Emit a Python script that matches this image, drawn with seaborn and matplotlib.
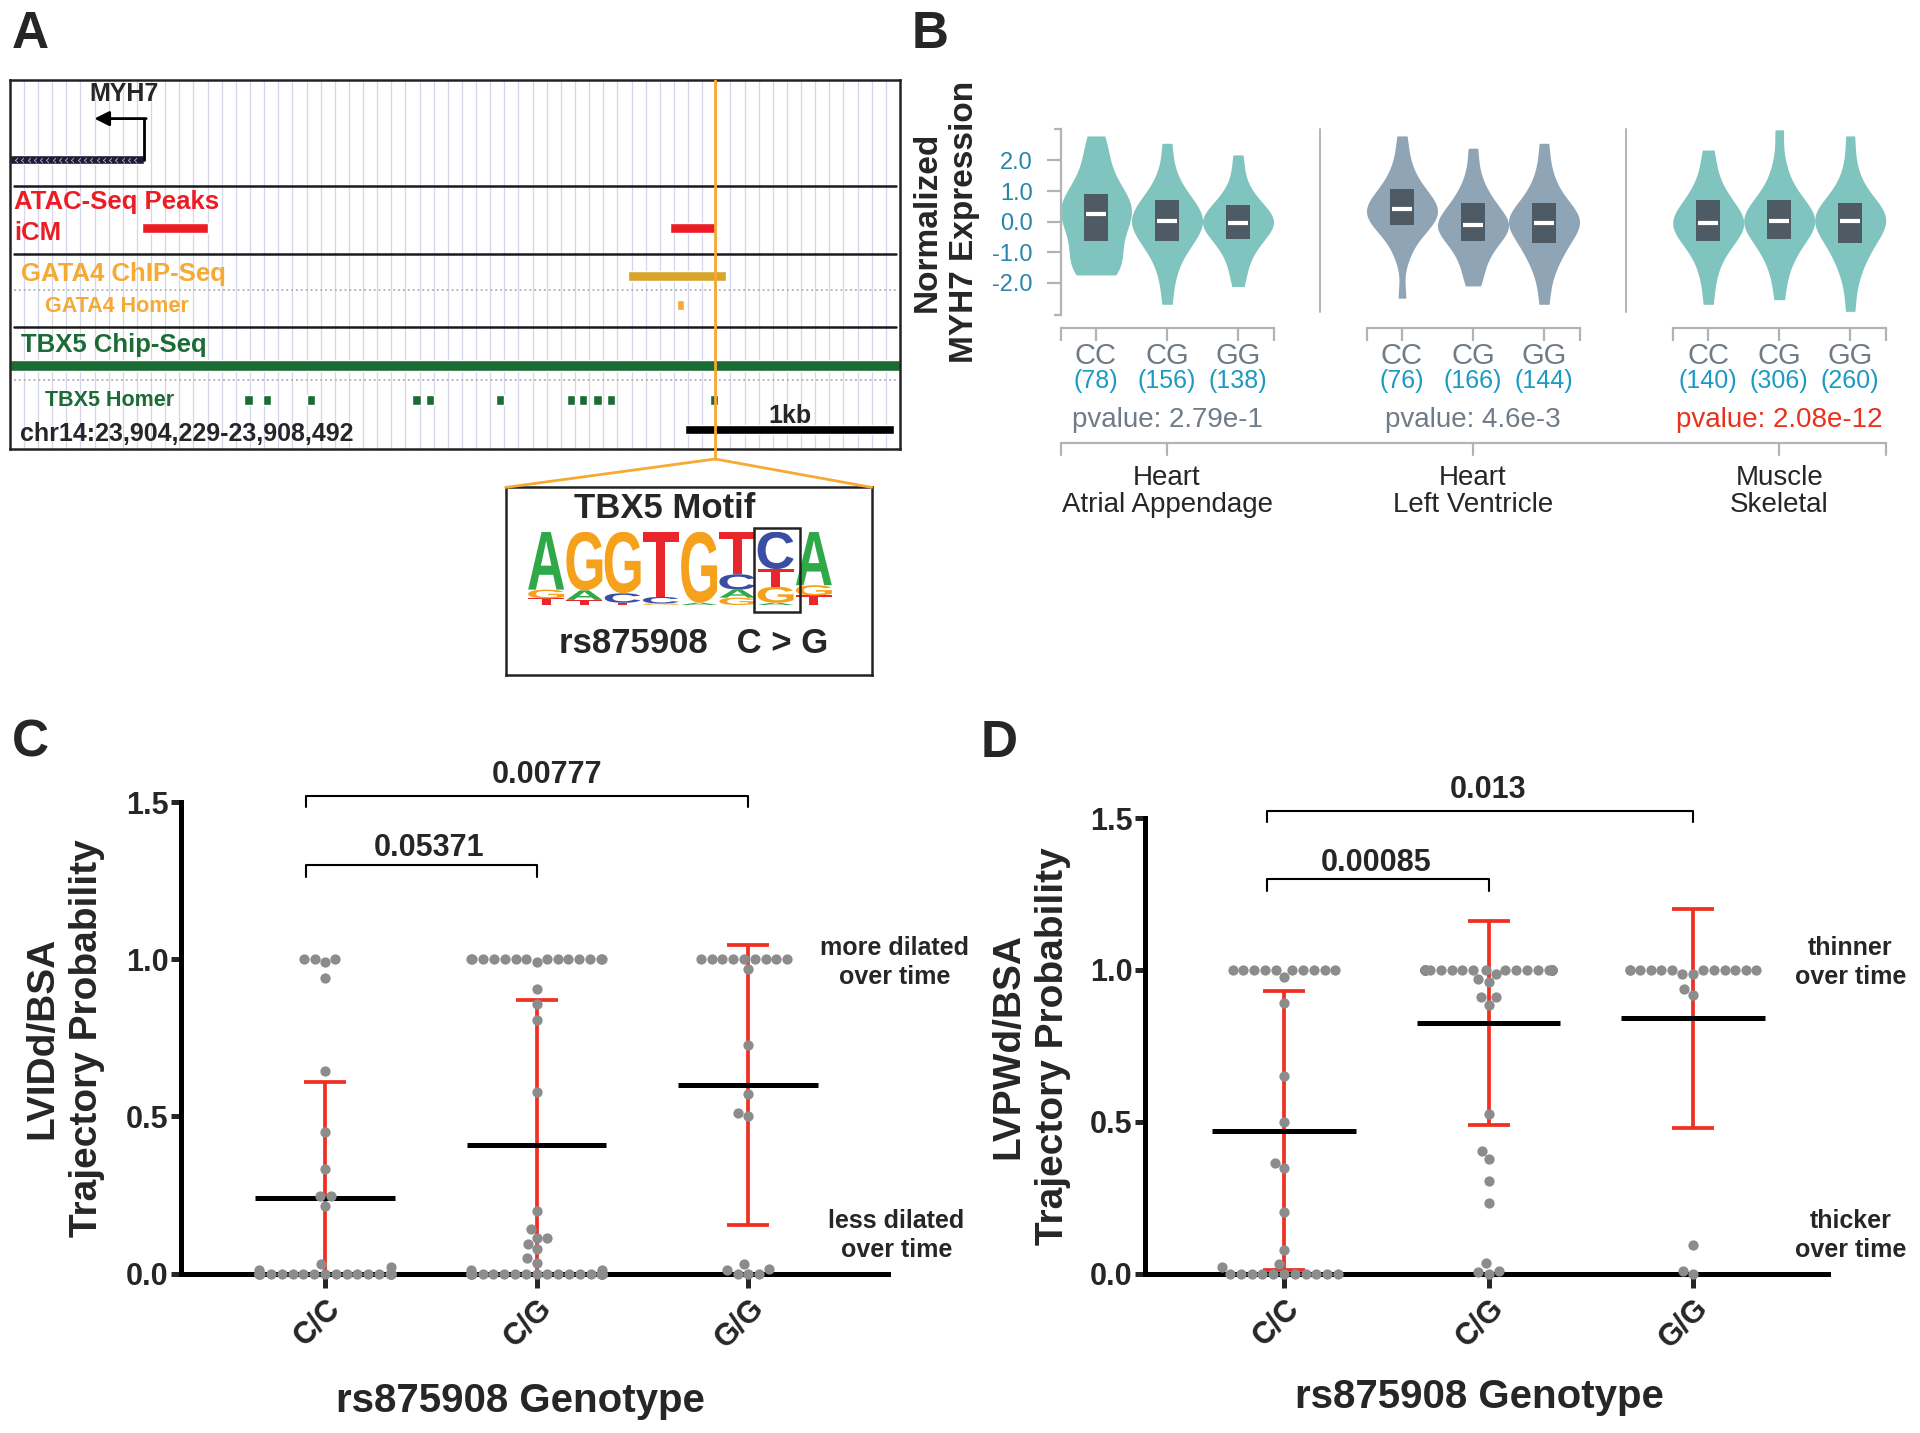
import numpy as np
import pandas as pd
import matplotlib
matplotlib.use("Agg")
import matplotlib.pyplot as plt
import seaborn as sns
from matplotlib.patches import Rectangle, PathPatch
from matplotlib.textpath import TextPath
from matplotlib.font_manager import FontProperties
from matplotlib.transforms import Affine2D, blended_transform_factory

try:
    from seaborn.categorical import Beeswarm
except ImportError:
    Beeswarm = None

# ---------------- data ----------------
# A: MYH7 locus on chr14, features in genomic coordinates
region_start = 23904229
region_end = 23908492
myh7_tss = 23904874
atac_peaks = [(23904862, 23905179), (23907390, 23907607)]
gata4_chip = [(23907190, 23907659)]
gata4_homer = [23907440]
tbx5_chip = [(23904229, 23908492)]
tbx5_homer = [23905372, 23905460, 23905672, 23906176, 23906240, 23906575,
              23906915, 23906973, 23907044, 23907108, 23907601]
snp_pos = 23907607
scale_bar = (23907463, 23908463)

# TBX5 motif, letter probabilities at positions 1-8
motif_A = [0.79, 0.13, 0.00, 0.00, 0.03, 0.11, 0.03, 0.73]
motif_C = [0.00, 0.00, 0.13, 0.09, 0.00, 0.21, 0.51, 0.00]
motif_G = [0.12, 0.80, 0.84, 0.02, 0.97, 0.10, 0.22, 0.14]
motif_T = [0.09, 0.07, 0.03, 0.89, 0.00, 0.58, 0.24, 0.13]
snp_column = 6

# B: GTEx eQTL, normalized MYH7 expression
tissues = ["Heart\nAtrial Appendage", "Heart\nLeft Ventricle", "Muscle\nSkeletal"]
geno_b = ["CC", "CG", "GG"]
n_samples = [[78, 156, 138], [76, 166, 144], [140, 306, 260]]
pvalues = ["2.79e-1", "4.6e-3", "2.08e-12"]
expr_q1 = [[-0.64, -0.64, -0.57], [-0.11, -0.64, -0.71], [-0.64, -0.57, -0.71]]
expr_med = [[0.26, 0.03, -0.03], [0.41, -0.11, -0.03], [-0.03, 0.03, 0.03]]
expr_q3 = [[0.91, 0.70, 0.56], [1.07, 0.62, 0.62], [0.70, 0.70, 0.62]]

aa_cc = [-1.74, -1.7, -1.5, -1.25, -1.0, -0.75, -0.5, -0.25, -0.05, 0.15, 0.26, 0.4, 0.55, 0.7, 0.91, 1.1, 1.4, 1.8, 2.3, 2.8]
aa_cg = [-2.7, -1.9, -1.4, -1.0, -0.8, -0.64, -0.45, -0.3, -0.15, -0.05, 0.03, 0.12, 0.25, 0.4, 0.55, 0.70, 0.9, 1.2, 1.7, 2.56]
aa_gg = [-2.12, -1.6, -1.2, -0.9, -0.7, -0.57, -0.4, -0.25, -0.12, -0.05, -0.03, 0.05, 0.15, 0.3, 0.45, 0.56, 0.75, 1.0, 1.5, 2.18]
lv_cc = [-2.5, -1.2, -0.7, -0.4, -0.2, -0.11, 0.05, 0.15, 0.25, 0.35, 0.41, 0.5, 0.6, 0.75, 0.9, 1.07, 1.3, 1.6, 2.1, 2.8]
lv_cg = [-2.1, -1.7, -1.3, -1.0, -0.8, -0.64, -0.45, -0.3, -0.2, -0.15, -0.11, 0.0, 0.1, 0.25, 0.45, 0.62, 0.8, 1.1, 1.6, 2.4]
lv_gg = [-2.7, -1.9, -1.4, -1.1, -0.9, -0.71, -0.5, -0.3, -0.15, -0.08, -0.03, 0.05, 0.15, 0.3, 0.45, 0.62, 0.85, 1.2, 1.7, 2.56]
sk_cc = [-2.7, -1.9, -1.4, -1.0, -0.8, -0.64, -0.45, -0.3, -0.15, -0.08, -0.03, 0.05, 0.2, 0.35, 0.5, 0.70, 0.9, 1.2, 1.7, 2.34]
sk_cg = [-2.55, -1.8, -1.3, -1.0, -0.75, -0.57, -0.4, -0.25, -0.1, -0.02, 0.03, 0.12, 0.25, 0.4, 0.55, 0.70, 0.95, 1.3, 1.9, 3.0]
sk_gg = [-2.93, -2.0, -1.5, -1.1, -0.9, -0.71, -0.5, -0.3, -0.15, -0.03, 0.03, 0.1, 0.2, 0.35, 0.5, 0.62, 0.85, 1.2, 1.8, 2.8]
expr_values = [[aa_cc, aa_cg, aa_gg], [lv_cc, lv_cg, lv_gg], [sk_cc, sk_cg, sk_gg]]

# C / D: trajectory probabilities by rs875908 genotype
genotypes = ["C/C", "C/G", "G/G"]
lvidd_cc = [1.0, 0.99, 1.0, 1.0, 0.94, 0.645, 0.45, 0.334, 0.245, 0.245, 0.216,
            0.03, 0.02, 0.01] + [0.0] * 19
lvidd_cg = [1.0] * 14 + [0.99, 0.906, 0.857, 0.805, 0.576, 0.20, 0.141, 0.113, 0.113,
            0.095, 0.077, 0.05, 0.033, 0.01, 0.01] + [0.0] * 20
lvidd_gg = [1.0] * 9 + [0.97, 0.727, 0.57, 0.51, 0.50, 0.03, 0.014, 0.012, 0.0, 0.0, 0.0]
lvidd_mean = [0.24, 0.41, 0.60]
lvidd_sd = [0.37, 0.46, 0.445]

lvpwd_cc = [1.0] * 10 + [0.978, 0.89, 0.65, 0.50, 0.364, 0.347, 0.203, 0.077, 0.03, 0.023] + [0.0] * 11
lvpwd_cg = [1.0] * 24 + [0.985, 0.97, 0.96, 0.91, 0.91, 0.885, 0.524, 0.402, 0.376, 0.304,
            0.233, 0.033, 0.007, 0.004, 0.0]
lvpwd_gg = [1.0] * 12 + [0.987, 0.987, 0.937, 0.918, 0.093, 0.009, 0.0]
lvpwd_mean = [0.47, 0.825, 0.84]
lvpwd_sd = [0.46, 0.335, 0.36]

# ---------------- style ----------------
sns.set_style("white")
plt.rcParams["font.family"] = ["Liberation Sans", "DejaVu Sans"]

W, H = 1920, 1433
fig = plt.figure(figsize=(W / 100, H / 100), dpi=100)


def px_axes(x0, y0, x1, y1, **kw):
    return fig.add_axes([x0 / W, 1 - y1 / H, (x1 - x0) / W, (y1 - y0) / H], **kw)


RED_A = "#ec1c24"
ORANGE = "#f6a933"
GOLD = "#d8a52c"
GREEN = "#1b6b34"

# ---------------- panel A: browser view ----------------
ax_a = px_axes(9.8, 79.6, 900, 449.4)
ax_a.set_xlim(region_start, region_end)
ax_a.set_ylim(369.8, 0)
ax_a.set_xticks([])
ax_a.set_yticks([])
for s in ax_a.spines.values():
    s.set_linewidth(1.8)
    s.set_color("#222222")
lab_tr = blended_transform_factory(ax_a.transAxes, ax_a.transData)

for gx in np.linspace(region_start, region_end, 64)[1:-1]:
    ax_a.axvline(gx, color="#d4d7ea", lw=0.9, zorder=0)

# gene model
ax_a.broken_barh([(region_start, myh7_tss - region_start)], (75.6, 9), facecolors="#1d1d33", zorder=2)
chevrons = np.arange(region_start + 30, myh7_tss - 40, 30)
ax_a.scatter(chevrons, [80.1] * len(chevrons), marker="$‹$", s=18, color="#aaa6dc", zorder=3,
             linewidths=0)
ax_a.plot([myh7_tss, myh7_tss], [80, 39], color="black", lw=2, zorder=3)
ax_a.annotate("", xy=(myh7_tss - 240, 39), xytext=(myh7_tss + 8, 39),
              arrowprops=dict(arrowstyle="-|>", color="black", lw=2, mutation_scale=22,
                              shrinkA=0, shrinkB=0))
ax_a.text(myh7_tss - 100, 14, "MYH7", ha="center", va="center", fontsize=18, weight="bold")

for yy in (106.5, 174, 247.3):
    ax_a.axhline(yy, xmin=0.005, xmax=0.995, color="#1a1a1a", lw=1.8)
for yy in (210.6, 300):
    ax_a.axhline(yy, xmin=0.005, xmax=0.995, color="#b8b8b8", lw=1.4, ls=(0, (1, 1.5)))

ax_a.text(0.005, 122.5, "ATAC-Seq Peaks", transform=lab_tr, color=RED_A, fontsize=18.5,
          weight="bold", va="center")
ax_a.text(0.005, 153, "iCM", transform=lab_tr, color=RED_A, fontsize=18.5, weight="bold", va="center")
ax_a.broken_barh([(a, b - a) for a, b in atac_peaks], (143.5, 10), facecolors=RED_A, zorder=2)

ax_a.text(0.013, 194.7, "GATA4 ChIP-Seq", transform=lab_tr, color=ORANGE, fontsize=18.5,
          weight="bold", va="center")
ax_a.broken_barh([(a, b - a) for a, b in gata4_chip], (191, 10), facecolors=GOLD, zorder=2)
ax_a.text(0.039, 226.5, "GATA4 Homer", transform=lab_tr, color=ORANGE, fontsize=15.5,
          weight="bold", va="center")
ax_a.broken_barh([(p - 18, 36) for p in gata4_homer], (220.5, 10), facecolors=ORANGE, zorder=2)

ax_a.text(0.013, 265.7, "TBX5 Chip-Seq", transform=lab_tr, color=GREEN, fontsize=18.5,
          weight="bold", va="center")
ax_a.broken_barh([(a, b - a) for a, b in tbx5_chip], (280, 11), facecolors=GREEN, zorder=2)
ax_a.text(0.039, 320.8, "TBX5 Homer", transform=lab_tr, color=GREEN, fontsize=15.5,
          weight="bold", va="center")
ax_a.broken_barh([(p - 20, 40) for p in tbx5_homer], (315.8, 10), facecolors=GREEN, zorder=2)

ax_a.text(0.011, 354, f"chr14:{region_start:,}-{region_end:,}", transform=lab_tr,
          fontsize=18, weight="bold", va="center")
ax_a.broken_barh([(scale_bar[0], scale_bar[1] - scale_bar[0])], (345.5, 9), facecolors="black", zorder=2)
ax_a.text(np.mean(scale_bar), 336, "1kb", ha="center", va="center", fontsize=18, weight="bold")
ax_a.axvline(snp_pos, color=ORANGE, lw=2, zorder=6)

# ---------------- motif box ----------------
ax_m = px_axes(505.7, 487.4, 871.8, 674.7)
ax_m.set_xticks([])
ax_m.set_yticks([])
for s in ax_m.spines.values():
    s.set_linewidth(1.8)
    s.set_color("#222222")
ax_m.text(0.435, 0.89, "TBX5 Motif", transform=ax_m.transAxes, ha="center", va="center",
          fontsize=25, weight="bold")
ax_m.text(0.513, 0.169, "rs875908   C > G", transform=ax_m.transAxes, ha="center", va="center",
          fontsize=25, weight="bold")

ax_logo = px_axes(527, 531.7, 833, 605)
ax_logo.set_xlim(0, len(motif_A))
ax_logo.set_ylim(0, 1)
ax_logo.axis("off")
logo_font = FontProperties(family="Liberation Sans", weight="bold")
letter_colors = {"A": "#2fa84a", "C": "#3a4ea3", "G": "#f5a11c", "T": "#e8262b"}


def draw_letter(ax, ch, x, y, w, h, color):
    tp = TextPath((0, 0), ch, size=1, prop=logo_font)
    bb = tp.get_extents()
    tr = Affine2D().translate(-bb.x0, -bb.y0).scale(w / bb.width, h / bb.height).translate(x, y)
    ax.add_patch(PathPatch(tr.transform_path(tp), fc=color, ec="none"))


for i in range(len(motif_A)):
    col = sorted(zip([motif_A[i], motif_C[i], motif_G[i], motif_T[i]], "ACGT"))
    base = 0.0
    for p, ch in col:
        if p > 0.005:
            draw_letter(ax_logo, ch, i + 0.03, base, 0.94, p, letter_colors[ch])
        base += p
ax_logo.add_patch(Rectangle((snp_column - 0.07, -0.09), 1.2, 1.14, fill=False, ec="#222222",
                            lw=1.8, clip_on=False))

# ---------------- panel B: violins ----------------
TEAL = "#7fc4be"
SLATE = "#8fa4b5"
BOX = "#4f5b64"
GTXT = "#6f7b87"
AXGREY = "#b3b3b3"
violin_colors = [TEAL, SLATE, TEAL]
b_left = [1060.5, 1366.5, 1672.7]
b_w = 213.0
b_top, b_bot = 128.6, 314.7
b_axes = []
for g in range(3):
    ax = px_axes(b_left[g], b_top, b_left[g] + b_w, b_bot)
    b_axes.append(ax)
    df = pd.DataFrame({"genotype": np.repeat(geno_b, [len(v) for v in expr_values[g]]),
                       "expr": np.concatenate(expr_values[g])})
    sns.violinplot(data=df, x="genotype", y="expr", order=geno_b, color=violin_colors[g],
                   saturation=1, inner=None, cut=0, density_norm="width", width=1.0,
                   linewidth=0, bw_adjust=0.75, ax=ax)
    xs = np.arange(3)
    ax.bar(xs, np.subtract(expr_q3[g], expr_q1[g]), bottom=expr_q1[g], width=0.34,
           color=BOX, linewidth=0, zorder=3)
    ax.hlines(expr_med[g], xs - 0.14, xs + 0.14, color="white", lw=3, zorder=4)
    ax.set_xlim(-0.5, 2.5)
    ax.set_ylim(-3.04, 3.04)
    ax.set_xlabel("")
    ax.set_ylabel("")
    ax.spines[["top", "right"]].set_visible(False)
    ax.spines["bottom"].set_position(("outward", 9.7))
    ax.spines["bottom"].set_color(AXGREY)
    ax.spines["bottom"].set_linewidth(1.6)
    ax.set_xticks([0, 1, 2])
    ax.set_xticklabels(geno_b)
    ax.set_xticks([-0.5, 2.5], minor=True)
    ax.tick_params(axis="x", which="both", bottom=True, length=9, width=1.6, color=AXGREY,
                   pad=1, labelsize=21, labelcolor=GTXT)
    tr = blended_transform_factory(ax.transData, ax.transAxes)
    for i, n in enumerate(n_samples[g]):
        ax.text(i, -0.355, f"({n})", transform=tr, ha="center", va="center",
                fontsize=18, color="#1c9ac3")
    ax.text(1, -0.566, f"pvalue: {pvalues[g]}", transform=tr, ha="center", va="center",
            fontsize=20, color="#e8321e" if g == 2 else GTXT)
    ax.text(1, -0.948, tissues[g], transform=tr, ha="center", va="center", fontsize=20,
            linespacing=1.05)
    if g == 0:
        ax.spines["left"].set_color(AXGREY)
        ax.spines["left"].set_linewidth(1.6)
        ax.set_yticks([2, 1, 0, -1, -2])
        ax.set_yticklabels(["2.0", "1.0", "0.0", "-1.0", "-2.0"])
        ax.set_yticks([-3.04, 3.04], minor=True)
        ax.tick_params(axis="y", which="major", left=True, length=10, width=1.6, color=AXGREY,
                       pad=10, labelsize=17, labelcolor="#2a84ab")
        ax.tick_params(axis="y", which="minor", left=True, length=5, width=1.6, color=AXGREY)
        ax.set_ylabel("Normalized\nMYH7 Expression", fontsize=24, weight="bold", linespacing=1.25)
        ax.yaxis.set_label_coords(-0.38, 0.5)
    else:
        ax.spines["left"].set_visible(False)
        ax.set_yticks([])

# ---------------- panels C and D ----------------
DOT = "#8c8c8c"
RED = "#ee3124"


def scatter_panel(ax, values, means, sds, ylabel, mean_hw, brackets, notes, label_x):
    df = pd.DataFrame({"genotype": np.repeat(genotypes, [len(v) for v in values]),
                       "value": np.concatenate(values)})
    n_before = len(ax.collections)
    sns.swarmplot(data=df, x="genotype", y="value", order=genotypes, color=DOT, size=7.4,
                  linewidth=0, zorder=4, clip_on=False, ax=ax)
    if Beeswarm is not None:
        bs = Beeswarm(orient="x", width=0.62, warn_thresh=1.0)
        for coll in ax.collections[n_before:]:
            center = float(np.round(coll.get_offsets()[0, 0]))

            def draw(points, renderer, *, center=center):
                bs(points, center)
                type(points).draw(points, renderer)
            coll.draw = draw.__get__(coll)
    xs = np.arange(3)
    ax.errorbar(xs, means, yerr=sds, fmt="none", ecolor=RED, elinewidth=2.7, capsize=15,
                capthick=2.7, zorder=2)
    ax.hlines(means, xs - mean_hw, xs + mean_hw, color="black", lw=3.6, zorder=3)
    ax.set_xlim(-0.68, 2.66)
    ax.set_ylim(0, 1.5)
    ax.spines[["top", "right"]].set_visible(False)
    for s in ("left", "bottom"):
        ax.spines[s].set_linewidth(3.6)
        ax.spines[s].set_color("black")
    ax.set_yticks([0, 0.5, 1.0, 1.5])
    ax.set_yticklabels(["0.0", "0.5", "1.0", "1.5"], fontsize=22, weight="bold")
    ax.set_xticks(xs)
    ax.set_xticklabels(genotypes, fontsize=22, weight="bold", rotation=45, ha="right",
                       rotation_mode="anchor")
    ax.tick_params(axis="y", left=True, length=7, width=3.6, pad=2)
    ax.tick_params(axis="x", bottom=True, length=10, width=3.6, pad=4)
    ax.set_ylabel(ylabel, fontsize=28, weight="bold", linespacing=1.3)
    ax.yaxis.set_label_coords(-0.108, 0.5)
    ax.set_xlabel("rs875908 Genotype", fontsize=29, weight="bold")
    ax.xaxis.set_label_coords(label_x, -0.23)
    for x0, x1, y, drop, txt, tx, ty in brackets:
        ax.plot([x0, x0, x1, x1], [y - drop, y, y, y - drop], color="black", lw=1.5,
                clip_on=False)
        ax.text(tx, ty, txt, ha="center", va="center", fontsize=22, weight="bold")
    for tx, ty, txt in notes:
        ax.text(tx, ty, txt, ha="center", va="center", fontsize=18, weight="bold",
                linespacing=1.25)


ax_c = px_axes(181, 802, 888, 1273.5)
scatter_panel(ax_c, [lvidd_cc, lvidd_cg, lvidd_gg], lvidd_mean, lvidd_sd,
              "LVIDd/BSA\nTrajectory Probability", 0.33,
              [(-0.09, 1.0, 1.30, 0.04, "0.05371", 0.49, 1.353),
               (-0.09, 2.0, 1.52, 0.037, "0.00777", 1.05, 1.585)],
              [(2.69, 0.99, "more dilated\nover time"), (2.70, 0.12, "less dilated\nover time")],
              0.48)

ax_d = px_axes(1145, 818, 1828, 1273.5)
scatter_panel(ax_d, [lvpwd_cc, lvpwd_cg, lvpwd_gg], lvpwd_mean, lvpwd_sd,
              "LVPWd/BSA\nTrajectory Probability", 0.35,
              [(-0.083, 1.0, 1.298, 0.04, "0.00085", 0.45, 1.351),
               (-0.083, 2.0, 1.524, 0.037, "0.013", 1.0, 1.593)],
              [(2.77, 1.024, "thinner\nover time"), (2.77, 0.125, "thicker\nover time")],
              0.489)

# ---------------- overlay: panel letters, connectors, group brackets ----------------
ov = fig.add_axes([0, 0, 1, 1], zorder=10)
ov.set_xlim(0, W)
ov.set_ylim(H, 0)
ov.axis("off")
ov.patch.set_alpha(0)

for txt, x, y in (("A", 30.6, 34.3), ("B", 930.6, 34.3), ("C", 30.6, 743), ("D", 999, 743)):
    ov.text(x, y, txt, ha="center", va="center", fontsize=37, weight="bold")

x_snp = ax_a.transData.transform((snp_pos, 0))[0]
ov.plot([x_snp, x_snp], [449.4, 459], color=ORANGE, lw=2)
ov.plot([505.7, x_snp, 871.8], [487.4, 459, 487.4], color=ORANGE, lw=2)

for g in (1, 2):
    xsep = (b_left[g - 1] + b_w + b_left[g]) / 2
    ov.plot([xsep, xsep], [b_top, 312], color=AXGREY, lw=1.4)

yb = 443.3
ov.plot([b_left[0], b_left[2] + b_w], [yb, yb], color=AXGREY, lw=1.6)
for xt in [b_left[0], b_left[2] + b_w] + [b + b_w / 2 for b in b_left]:
    ov.plot([xt, xt], [yb, yb + 12], color=AXGREY, lw=1.6)

fig.savefig("out.png", dpi=100)
